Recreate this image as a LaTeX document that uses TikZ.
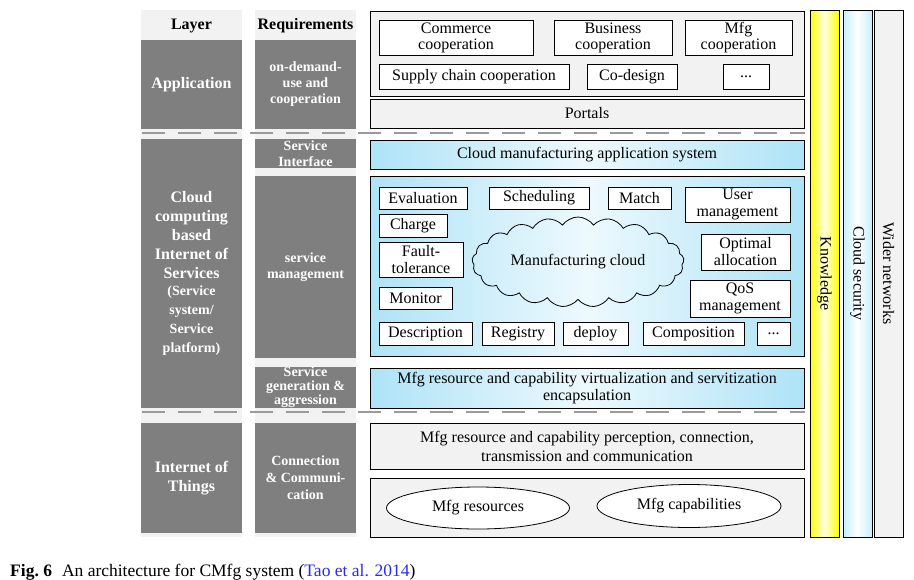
\documentclass[tikz,border=0pt]{standalone}
\usepackage{fontspec}
\setmainfont{Liberation Serif}
\usepackage{xcolor}
\usetikzlibrary{shapes.geometric,shapes.symbols}
\definecolor{cellgray}{HTML}{7F7F7F}
\definecolor{panelgray}{HTML}{F2F2F2}
\definecolor{skyblue}{HTML}{AEE3F7}
\definecolor{icecyan}{HTML}{C4EFFB}
\definecolor{dashgray}{HTML}{9A9A9A}
\definecolor{citeblue}{HTML}{2A2AE8}
\newcommand{\svcfont}{\fontsize{14}{16.5}\selectfont}

\begin{document}
\begin{tikzpicture}[x=1pt,y=-1pt,
        txt/.style={font=\fontsize{16}{17}\selectfont, align=center, inner sep=0pt},
        headtxt/.style={font=\bfseries\fontsize{16}{19}\selectfont, align=center, inner sep=0pt},
        colbg/.style={fill=panelgray, minimum width=101, minimum height=527, inner sep=0pt},
        darkcell/.style={fill=cellgray, text=white, minimum width=101, inner sep=0pt, align=center,
            font=\bfseries\fontsize{16}{19}\selectfont},
        smallcell/.style={darkcell, font=\bfseries\fontsize{14}{16}\selectfont},
        panel/.style={txt, draw, line width=1pt, fill=panelgray, minimum width=434},
        bluepanel/.style={txt, draw, line width=1pt, left color=skyblue, right color=skyblue,
            middle color=skyblue!22, minimum width=434},
        itembox/.style={txt, draw, line width=1pt, fill=white},
        sidebar/.style={draw, line width=1pt, minimum width=29, minimum height=527, inner sep=0pt},
        separator/.style={draw=dashgray, line width=1.5pt, dash pattern=on 23pt off 13pt},
        captxt/.style={font=\fontsize{17.5}{20}\selectfont, inner sep=0pt}]
    \useasboundingbox (0,0) rectangle (914,579);

    \node[colbg] (layerbg) at (191.5,273.5) {};
    \node[colbg] (reqbg) at (305.5,273.5) {};
    \node[headtxt] (layerhead) at (191.5,26) {Layer};
    \node[headtxt] (reqhead) at (305.5,26) {Requirements};

    \node[darkcell, minimum height=89] (appcell) at (191.5,84.5) {Application};
    \node[darkcell, minimum height=269] (ioscell) at (191.5,273.5)
        {Cloud\\computing\\based\\Internet of\\Services\\[-2pt]
         \svcfont (Service\\\svcfont system/\\\svcfont Service\\\svcfont platform)};
    \node[darkcell, minimum height=110] (iotcell) at (191.5,478) {Internet of\\Things};

    \node[smallcell, minimum height=89] (demandcell) at (305.5,84.5) {on-demand-\\use and\\cooperation};
    \node[smallcell, minimum height=29] (interfacecell) at (305.5,153.5) {Service\\Interface};
    \node[smallcell, minimum height=182] (mgmtcell) at (305.5,267) {service\\management};
    \node[smallcell, minimum height=41, font=\bfseries\fontsize{14}{14}\selectfont] (gencell) at (305.5,387.5)
        {Service\\generation \&\\aggression};
    \node[smallcell, minimum height=110, font=\bfseries\fontsize{14}{17}\selectfont] (conncell) at (305.5,478)
        {Connection\\\& Communi-\\cation};

    \coordinate (sepAl) at (142,133);
    \coordinate (sepAr) at (805,133);
    \coordinate (sepBl) at (142,412);
    \coordinate (sepBr) at (805,412);
    \draw[separator] (sepAl) -- (sepAr);
    \draw[separator] (sepBl) -- (sepBr);

    \node[panel, minimum height=85] (apppanel) at (587,53.5) {};
    \node[itembox, minimum width=154, minimum height=35, font=\fontsize{16}{16}\selectfont] (commerce) at (456,37.5) {Commerce\\cooperation};
    \node[itembox, minimum width=118, minimum height=35, font=\fontsize{16}{16}\selectfont] (business) at (613,37.5) {Business\\cooperation};
    \node[itembox, minimum width=107, minimum height=35, font=\fontsize{16}{16}\selectfont] (mfgcoop) at (738.5,37.5) {Mfg\\cooperation};
    \node[itembox, minimum width=190, minimum height=25] (supply) at (474,76.5) {Supply chain cooperation};
    \node[itembox, minimum width=90, minimum height=25] (codesign) at (632,76.5) {Co-design};
    \node[itembox, minimum width=46, minimum height=25] (moreapp) at (746,76.5) {...};
    \node[panel, minimum height=29] (portals) at (587,113.5) {Portals};

    \node[bluepanel, minimum height=29] (cmas) at (587,154.5) {Cloud manufacturing application system};
    \node[bluepanel, minimum height=180] (mgmtpanel) at (587,266) {};
    \node[itembox, minimum width=88, minimum height=22] (evaluation) at (423,198) {Evaluation};
    \node[itembox, minimum width=100, minimum height=22] (scheduling) at (539,198) {Scheduling};
    \node[itembox, minimum width=63, minimum height=22] (match) at (639.5,198) {Match};
    \node[itembox, minimum width=105, minimum height=35] (usermgmt) at (737.5,204.5) {User\\management};
    \node[itembox, minimum width=68, minimum height=23] (charge) at (413,225.5) {Charge};
    \node[itembox, minimum width=84, minimum height=35] (fault) at (421,259.5) {Fault-\\tolerance};
    \node[itembox, minimum width=89, minimum height=36] (optimal) at (745.5,252) {Optimal\\allocation};
    \node[itembox, minimum width=73, minimum height=22] (monitor) at (415.5,298) {Monitor};
    \node[itembox, minimum width=100, minimum height=37] (qos) at (740,298.5) {QoS\\management};
    \node[itembox, minimum width=93, minimum height=23] (description) at (425.5,333.5) {Description};
    \node[itembox, minimum width=72, minimum height=23] (registry) at (518,333.5) {Registry};
    \node[itembox, minimum width=65, minimum height=23] (deploy) at (595.5,333.5) {deploy};
    \node[itembox, minimum width=101, minimum height=23] (composition) at (693.5,333.5) {Composition};
    \node[itembox, minimum width=33, minimum height=23] (moremgmt) at (773.5,333.5) {...};
    \node[txt, cloud, draw, line width=0.8pt, cloud puffs=21, cloud puff arc=110, cloud ignores aspect,
        minimum width=212, minimum height=90] (mcloud) at (578,262) {Manufacturing cloud};
    \node[bluepanel, minimum height=40] (virtpanel) at (587,388)
        {Mfg resource and capability virtualization and servitization\\encapsulation};

    \node[panel, minimum height=46, font=\fontsize{16}{19}\selectfont] (percpanel) at (587,446)
        {Mfg resource and capability perception, connection,\\transmission and communication};
    \node[panel, minimum height=59] (respanel) at (587,507.5) {};
    \node[txt, ellipse, draw, line width=0.8pt, fill=white, minimum width=183, minimum height=42] (mfgres) at (478,508) {Mfg resources};
    \node[txt, ellipse, draw, line width=0.8pt, fill=white, minimum width=184, minimum height=43] (mfgcap) at (689,506) {Mfg capabilities};

    \node[sidebar, left color=yellow, right color=yellow, middle color=yellow!12] (knowledge) at (824.5,273.5) {};
    \node[sidebar, left color=icecyan, right color=icecyan, middle color=white] (security) at (857.5,273.5) {};
    \node[sidebar, fill=panelgray] (networks) at (888.5,273.5) {};
    \node[txt, rotate=-90] (knowledgetxt) at (knowledge) {Knowledge};
    \node[txt, rotate=-90] (securitytxt) at (security) {Cloud security};
    \node[txt, rotate=-90] (networkstxt) at (networks) {Wider networks};

    \node[captxt, anchor=base west] (caption) at (10,576)
        {\textbf{Fig.~6}\hspace{10pt}An architecture for CMfg system ({\color{citeblue}Tao et al. 2014})};
\end{tikzpicture}
\end{document}
